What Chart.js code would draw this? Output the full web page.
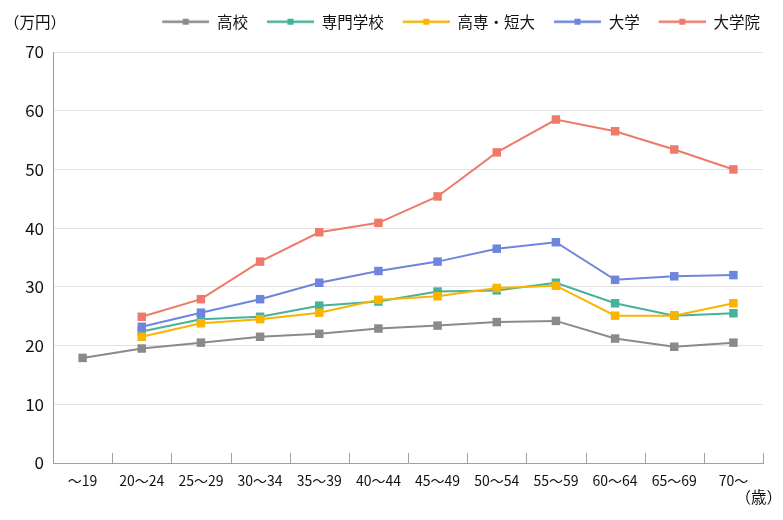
<!DOCTYPE html>
<html>
<head>
<meta charset="utf-8">
<script src="https://cdn.jsdelivr.net/npm/chart.js@4"></script>
<style>
html,body{margin:0;padding:0;background:#fff;}
canvas{display:block;}
</style>
</head>
<body>
<canvas id="c" width="783" height="520"></canvas>
<script>
const categories = ['～19','20～24','25～29','30～34','35～39','40～44','45～49','50～54','55～59','60～64','65～69','70～'];
const seriesNames = ['高校','専門学校','高専・短大','大学','大学院'];
const koko      = [17.9, 19.5, 20.5, 21.5, 22.0, 22.9, 23.4, 24.0, 24.2, 21.2, 19.8, 20.5];
const senmon    = [null, 22.4, 24.5, 24.9, 26.8, 27.5, 29.2, 29.4, 30.7, 27.2, 25.1, 25.5];
const tandai    = [null, 21.5, 23.8, 24.5, 25.6, 27.8, 28.4, 29.8, 30.2, 25.1, 25.1, 27.2];
const daigaku   = [null, 23.2, 25.6, 27.9, 30.7, 32.7, 34.3, 36.5, 37.6, 31.2, 31.8, 32.0];
const daigakuin = [null, 24.9, 27.9, 34.3, 39.3, 40.9, 45.4, 52.9, 58.5, 56.5, 53.4, 50.0];
const yTicks = [0, 10, 20, 30, 40, 50, 60, 70];
const yUnit = '（万円）';
const xUnit = '（歳）';

const colors = ['#8a8a8a', '#46b29a', '#fab400', '#6e85de', '#ee7a6a'];
const values = [koko, senmon, tandai, daigaku, daigakuin];
const FONT = '"Noto Sans CJK JP", "Noto Sans", sans-serif';

function legendIcon(color) {
  const c = document.createElement('canvas');
  c.width = 56; c.height = 10;
  const g = c.getContext('2d');
  g.strokeStyle = color;
  g.lineWidth = 2.5;
  g.beginPath(); g.moveTo(9, 5); g.lineTo(56, 5); g.stroke();
  g.fillStyle = color;
  g.fillRect(32.5 - 3, 2, 6, 6);
  return c;
}

const datasets = seriesNames.map((name, i) => ({
  label: name,
  data: values[i],
  borderColor: colors[i],
  backgroundColor: colors[i],
  pointBackgroundColor: colors[i],
  pointBorderColor: colors[i],
  borderWidth: 2,
  pointStyle: 'rect',
  pointRadius: 6,
  pointBorderWidth: 0,
  tension: 0,
  order: seriesNames.length - i,
  _icon: legendIcon(colors[i])
}));

const extras = {
  id: 'extras',
  beforeInit(chart) {},
  afterInit(chart) {
    const lg = chart.legend;
    if (lg) {
      const origFit = lg.fit;
      lg.fit = function () { origFit.call(this); this.height = 48; };
    }
  },
  beforeDatasetsDraw(chart) {
    const {ctx, chartArea, scales} = chart;
    const x = scales.x;
    ctx.save();
    ctx.strokeStyle = '#a0a0a0';
    ctx.lineWidth = 1;
    for (let i = 0; i < categories.length; i++) {
      const px = Math.round(x.getPixelForValue(i + 0.5)) + 0.5;
      ctx.beginPath();
      ctx.moveTo(px, chartArea.bottom - 10);
      ctx.lineTo(px, chartArea.bottom);
      ctx.stroke();
    }
    ctx.restore();
  },
  afterDraw(chart) {
    const {ctx} = chart;
    ctx.save();
    ctx.fillStyle = '#111';
    ctx.font = '15.5px ' + FONT;
    ctx.textBaseline = 'middle';
    ctx.textAlign = 'left';
    ctx.fillText(yUnit, 4, 22);
    ctx.textAlign = 'right';
    ctx.fillText(xUnit, 782, 497);
    ctx.restore();
  }
};

new Chart(document.getElementById('c'), {
  type: 'line',
  data: { labels: categories, datasets },
  options: {
    responsive: false,
    animation: false,
    devicePixelRatio: 1,
    layout: { padding: { left: 0, right: 13, top: 4, bottom: 0 } },
    plugins: {
      tooltip: { enabled: false },
      legend: {
        position: 'top',
        align: 'end',
        labels: {
          usePointStyle: true,
          pointStyleWidth: 56,
          padding: 10,
          color: '#111',
          font: { family: FONT, size: 15.5 },
          generateLabels(chart) {
            return chart.data.datasets.map((ds, i) => ({
              text: ds.label,
              fillStyle: ds.borderColor,
              strokeStyle: ds.borderColor,
              lineWidth: 0,
              pointStyle: ds._icon,
              hidden: false,
              datasetIndex: i,
              fontColor: '#111'
            }));
          }
        }
      }
    },
    scales: {
      x: {
        offset: true,
        grid: { display: false, drawTicks: false },
        border: { display: true, color: '#a0a0a0', width: 1 },
        ticks: { color: '#111', padding: 9, font: { family: FONT, size: 14 }, maxRotation: 0, autoSkip: false },
        afterFit(s) { s.height = 57; s.paddingRight = 20; }
      },
      y: {
        min: 0, max: 70,
        afterBuildTicks(s) { s.ticks = yTicks.map(v => ({ value: v })); },
        grid: { color: '#e2e2e2', lineWidth: 1, drawTicks: false },
        border: { display: true, color: '#999', width: 1 },
        ticks: { color: '#111', padding: 9, font: { family: FONT, size: 17 } },
        afterFit(s) { s.width = 53; }
      }
    }
  },
  plugins: [extras]
});
</script>
</body>
</html>
